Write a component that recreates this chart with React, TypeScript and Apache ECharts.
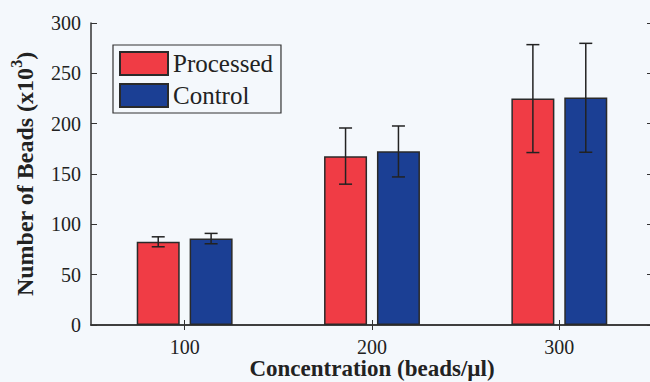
import React, { useEffect, useRef } from "react";
import * as echarts from "echarts";

const categories = ["100", "200", "300"];
const seriesNames = ["Processed", "Control"];
const processedValues = [82.6, 167.7, 225.0];
const controlValues = [86.0, 172.6, 225.9];
const processedErrLow = [77.7, 139.9, 171.3];
const processedErrHigh = [87.6, 195.7, 278.5];
const controlErrLow = [80.7, 147.1, 171.6];
const controlErrHigh = [91.0, 197.7, 279.8];
const yTicks = { min: 0, max: 300, interval: 50 };

const FONT = "Liberation Serif";
const RED = "#f03c45";
const BLUE = "#1b3f94";
const EDGE = "#2a2a2a";
const BAR_W = 43;
const GAP_FRAC = 0.23;
const OFFSET = (BAR_W + BAR_W * GAP_FRAC) / 2;

function errorSeries(name: string, low: number[], high: number[], offset: number) {
  return {
    type: "custom",
    name,
    z: 10,
    data: low.map((l, i) => [i, l, high[i]]),
    renderItem: (params: any, api: any) => {
      const lo = api.coord([api.value(0), api.value(1)]);
      const hi = api.coord([api.value(0), api.value(2)]);
      const x = lo[0] + offset;
      const cap = 6.5;
      const style = { stroke: "#222", lineWidth: 1.5 };
      return {
        type: "group",
        children: [
          { type: "line", shape: { x1: x, y1: lo[1], x2: x, y2: hi[1] }, style },
          { type: "line", shape: { x1: x - cap, y1: hi[1], x2: x + cap, y2: hi[1] }, style },
          { type: "line", shape: { x1: x - cap, y1: lo[1], x2: x + cap, y2: lo[1] }, style },
        ],
      };
    },
  };
}

export default function App() {
  const ref = useRef<HTMLDivElement>(null);
  useEffect(() => {
    if (!ref.current) return;
    const chart = echarts.init(ref.current, null, { renderer: "svg" });
    const axisLine = { show: true, lineStyle: { color: "#333", width: 1.5 } };
    const legendText = {
      fontFamily: FONT,
      fontSize: 25,
      color: "#222",
      lineHeight: 23,
    };
    chart.setOption({
      animation: false,
      backgroundColor: "#f4f8fc",
      textStyle: { fontFamily: FONT },
      grid: { left: 91, top: 23, width: 562, bottom: 57, containLabel: false, outerBoundsMode: "none" },
      legend: {
        data: seriesNames.map((n) => ({ name: n, icon: "rect" })),
        orient: "vertical",
        left: 113,
        top: 45,
        padding: [6, 8, 5, 6],
        itemGap: 7,
        itemWidth: 48,
        itemHeight: 23,
        itemTextGap: 5,
        borderColor: "#333",
        borderWidth: 1.2,
        backgroundColor: "#f4f8fc",
        textStyle: legendText,
      },
      xAxis: [
        {
          type: "category",
          data: categories,
          position: "bottom",
          axisLine,
          axisTick: { show: true, inside: true, alignWithLabel: true, length: 5, lineStyle: { color: "#333" } },
          axisLabel: { fontFamily: FONT, fontSize: 20, color: "#222", margin: 12 },
          name: "Concentration (beads/µl)",
          nameLocation: "middle",
          nameGap: 32,
          nameMoveOverlap: false,
          nameTextStyle: { fontFamily: FONT, fontSize: 23, fontWeight: "bold", color: "#222" },
        },
        {
          type: "category",
          data: categories,
          position: "top",
          axisLine,
          axisTick: { show: true, inside: true, alignWithLabel: true, length: 5, lineStyle: { color: "#333" } },
          axisLabel: { show: false },
        },
      ],
      yAxis: [
        {
          type: "value",
          min: yTicks.min,
          max: yTicks.max,
          interval: yTicks.interval,
          position: "left",
          axisLine,
          splitLine: { show: false },
          axisTick: { show: true, inside: true, length: 6, lineStyle: { color: "#333" } },
          axisLabel: { fontFamily: FONT, fontSize: 20, color: "#222", margin: 10 },
          name: "{a|Number of Beads (x10}{s|3}{a|)}",
          nameLocation: "middle",
          nameGap: 49,
          nameMoveOverlap: false,
          nameTextStyle: {
            rich: {
              a: { fontFamily: FONT, fontSize: 24, fontWeight: "bold", color: "#222", lineHeight: 34 },
              s: { fontFamily: FONT, fontSize: 16, fontWeight: "bold", color: "#222", lineHeight: 14, verticalAlign: "top" },
            },
          },
        },
        {
          type: "value",
          min: yTicks.min,
          max: yTicks.max,
          interval: yTicks.interval,
          position: "right",
          axisLine,
          splitLine: { show: false },
          axisTick: { show: true, inside: true, length: 6, lineStyle: { color: "#333" } },
          axisLabel: { show: false },
        },
      ],
      series: [
        {
          type: "bar",
          name: seriesNames[0],
          data: processedValues,
          barWidth: BAR_W,
          barGap: GAP_FRAC * 100 + "%",
          itemStyle: { color: RED, borderColor: EDGE, borderWidth: 1.5 },
        },
        {
          type: "bar",
          name: seriesNames[1],
          data: controlValues,
          barWidth: BAR_W,
          barGap: GAP_FRAC * 100 + "%",
          itemStyle: { color: BLUE, borderColor: EDGE, borderWidth: 1.5 },
        },
        errorSeries("Processed error", processedErrLow, processedErrHigh, -OFFSET),
        errorSeries("Control error", controlErrLow, controlErrHigh, OFFSET),
      ],
    });
    return () => chart.dispose();
  }, []);
  return (
    <div
      ref={ref}
      style={{ position: "fixed", left: 0, top: 0, width: 650, height: 382 }}
    />
  );
}
